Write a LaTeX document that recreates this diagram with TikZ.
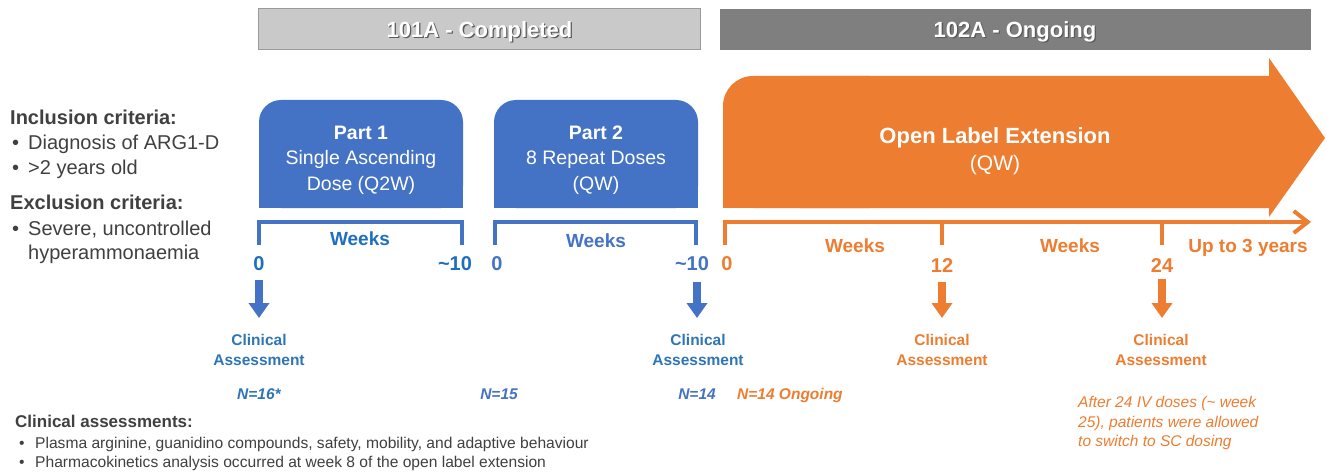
\documentclass[tikz,border=0pt]{standalone}
\usepackage{fontspec}
\setmainfont{Liberation Sans}
\usetikzlibrary{arrows.meta}
\definecolor{bbox}{HTML}{4472C4}
\definecolor{btxt}{HTML}{1F6FC1}
\definecolor{btxtb}{HTML}{4472C4}
\definecolor{btxtc}{HTML}{2E75B6}
\definecolor{oran}{HTML}{ED7D31}
\definecolor{lgray}{HTML}{C9C9C9}
\definecolor{lgrayb}{HTML}{9A9A9A}
\definecolor{dgray}{HTML}{7F7F7F}
\definecolor{txt}{HTML}{404040}
\definecolor{shad}{HTML}{5A5A5A}
\begin{document}
\begin{tikzpicture}[x=1pt,y=-1pt,
  lbl/.style={inner sep=0, anchor=base},
  lblw/.style={inner sep=0, anchor=base west},
  titletxt/.style={lbl, text=white, font=\fontsize{22}{26}\selectfont\bfseries},
  titleshadow/.style={lbl, text=shad, font=\fontsize{22}{26}\selectfont\bfseries},
  parttxt/.style={lbl, text=white, align=center, font=\fontsize{19.5}{25.5}\selectfont},
  crit/.style={lblw, text=txt, font=\fontsize{20}{24}\selectfont},
  critb/.style={lblw, text=txt, font=\fontsize{20}{24}\selectfont\bfseries},
  tick/.style={lbl, font=\fontsize{20}{24}\selectfont\bfseries},
  weeks/.style={lbl, font=\fontsize{19}{23}\selectfont\bfseries},
  assess/.style={lbl, align=center, font=\fontsize{15.5}{20}\selectfont\bfseries},
  ncount/.style={lbl, font=\fontsize{15.5}{19}\selectfont\bfseries\itshape},
  bracket/.style={line width=4, line cap=butt},
  bigarrow/.style={line width=8, -{Triangle[width=20pt,length=15pt]}},
  foot/.style={lblw, text=txt, font=\fontsize{15.6}{19}\selectfont},
]
\useasboundingbox (0,0) rectangle (1327,473);
\fill[white] (0,0) rectangle (1327,473);

% header boxes
\node[draw=lgrayb, fill=lgray, line width=1, minimum width=442, minimum height=41, inner sep=0] (h1) at (479,29.5) {};
\node[fill=dgray, minimum width=591, minimum height=41, inner sep=0] (h2) at (1015.5,29.5) {};
\node[titleshadow] (h1s) at (480.8,38.8) {101A - Completed};
\node[titletxt] (h1t) at (479.5,37.5) {101A - Completed};
\node[titleshadow] (h2s) at (1016.3,38.8) {102A - Ongoing};
\node[titletxt] (h2t) at (1015,37.5) {102A - Ongoing};

% left criteria
\node[critb] (inc) at (10,125) {Inclusion criteria:};
\node[crit] (inc1b) at (12,150) {•};
\node[crit] (inc1) at (28,150) {Diagnosis of ARG1-D};
\node[crit] (inc2b) at (12,175) {•};
\node[crit] (inc2) at (28,175) {>2 years old};
\node[critb] (exc) at (10,209) {Exclusion criteria:};
\node[crit] (exc1b) at (12,235) {•};
\node[crit] (exc1) at (28,235) {Severe, uncontrolled};
\node[crit] (exc2) at (28,259) {hyperammonaemia};

% part boxes
\fill[bbox, rounded corners=22] (259,100) rectangle (463,208);
\fill[bbox] (259,150) rectangle (463,208);
\fill[bbox, rounded corners=22] (494,100) rectangle (698,208);
\fill[bbox] (494,150) rectangle (698,208);
\node[parttxt] (p1) at (361,190) {\textbf{Part 1}\\Single Ascending\\Dose (Q2W)};
\node[parttxt] (p2) at (596,190) {\textbf{Part 2}\\8 Repeat Doses\\(QW)};

% orange arrow
\fill[oran, rounded corners=30] (723,76) rectangle (900,208);
\fill[oran] (723,130) rectangle (900,208);
\fill[oran] (800,76) -- (1269,76) -- (1269,58) -- (1325,138) -- (1269,217) -- (1269,208) -- (800,208) -- cycle;
\node[lbl, text=white, font=\fontsize{22}{26}\selectfont\bfseries] (ole) at (995,144) {Open Label Extension};
\node[lbl, text=white, font=\fontsize{21}{25}\selectfont] (oleqw) at (995,171) {(QW)};

% brackets
\draw[bracket, bbox] (259,245) -- (259,222) -- (462,222) -- (462,245);
\draw[bracket, bbox] (495,245) -- (495,222) -- (696,222) -- (696,245);
\draw[bracket, oran] (725,245) -- (725,222) -- (1290,222);
\draw[line width=4, oran, -{Straight Barb[length=14pt,width=22pt,line width=4pt]}] (1280,222) -- (1311,222);
\draw[bracket, oran] (942,222) -- (942,245);
\draw[bracket, oran] (1162,222) -- (1162,245);

% axis labels
\node[weeks, text=btxt] (w1) at (360,245) {Weeks};
\node[weeks, text=btxtb] (w2) at (596,247) {Weeks};
\node[weeks, text=oran] (w3) at (855,252) {Weeks};
\node[weeks, text=oran] (w4) at (1070,252) {Weeks};
\node[weeks, text=oran] (up3) at (1248,252) {Up to 3 years};
\node[tick, text=btxt] (t10) at (259,270) {0};
\node[tick, text=btxt] (t11) at (455,270) {\textasciitilde10};
\node[tick, text=btxtb] (t20) at (497,270) {0};
\node[tick, text=btxtb] (t21) at (692,270) {\textasciitilde10};
\node[tick, text=oran] (t30) at (727,270) {0};
\node[tick, text=oran] (t312) at (942,272) {12};
\node[tick, text=oran] (t324) at (1162,272) {24};

% down arrows
\coordinate (a1s) at (259,280); \coordinate (a1e) at (259,318);
\coordinate (a2s) at (697,282); \coordinate (a2e) at (697,318);
\coordinate (a3s) at (942,282); \coordinate (a3e) at (942,318);
\coordinate (a4s) at (1162,279); \coordinate (a4e) at (1162,318);
\draw[bigarrow, bbox] (a1s) -- (a1e);
\draw[bigarrow, bbox] (a2s) -- (a2e);
\draw[bigarrow, oran] (a3s) -- (a3e);
\draw[bigarrow, oran] (a4s) -- (a4e);

\node[assess, text=btxtc] (ca1) at (259,365) {Clinical\\Assessment};
\node[assess, text=btxtc] (ca2) at (698,365) {Clinical\\Assessment};
\node[assess, text=oran] (ca3) at (942,365) {Clinical\\Assessment};
\node[assess, text=oran] (ca4) at (1161,365) {Clinical\\Assessment};

% counts
\node[ncount, text=btxtc] (n1) at (259,399) {N=16*};
\node[ncount, text=btxtb] (n2) at (499,399) {N=15};
\node[ncount, text=btxtb] (n3) at (697,399) {N=14};
\node[ncount, text=oran, anchor=base west] (n4) at (737,399) {N=14 Ongoing};

\node[lblw, text=oran, align=left, font=\fontsize{15.5}{19.5}\selectfont\itshape] (note) at (1078,446.5) {After 24 IV doses (\textasciitilde{} week\\25), patients were allowed\\to switch to SC dosing};

% footnote
\node[lblw, text=txt, font=\fontsize{17}{20}\selectfont\bfseries] (ftitle) at (15,427) {Clinical assessments:};
\node[foot] (f1b) at (19,448) {•};
\node[foot] (f1) at (35,448) {Plasma arginine, guanidino compounds, safety, mobility, and adaptive behaviour};
\node[foot] (f2b) at (19,467) {•};
\node[foot] (f2) at (35,467) {Pharmacokinetics analysis occurred at week 8 of the open label extension};
\end{tikzpicture}
\end{document}
